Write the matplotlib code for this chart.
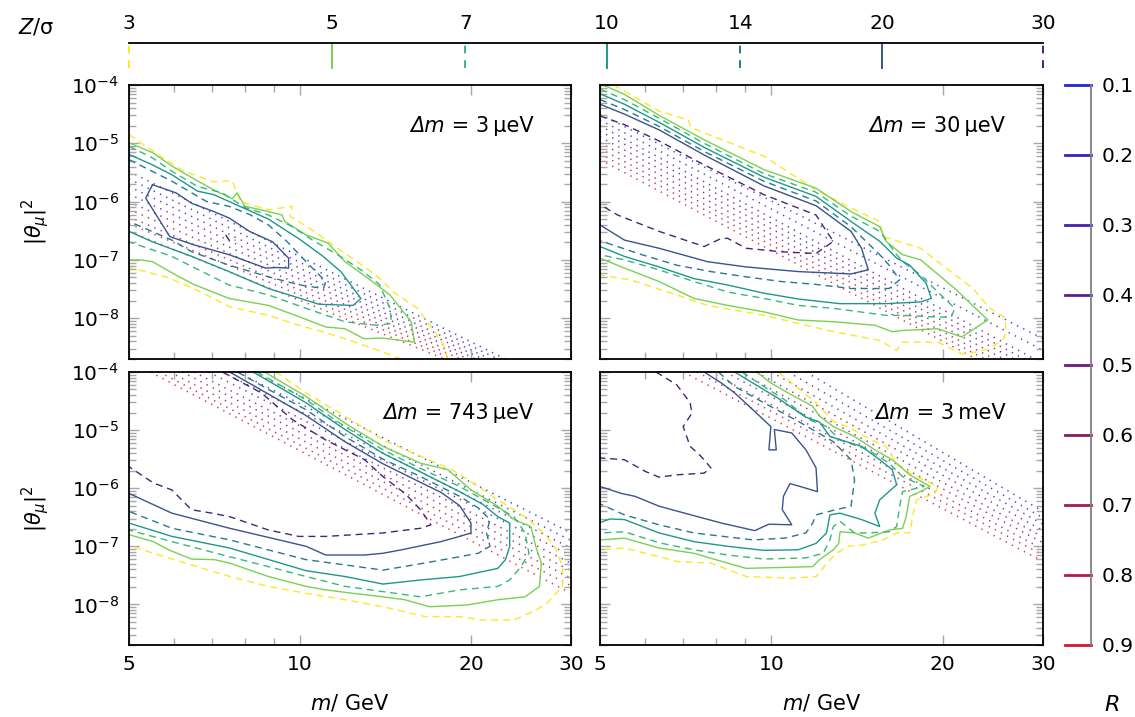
import numpy as np
import matplotlib
matplotlib.use("Agg")
import matplotlib.pyplot as plt
from matplotlib.colors import LogNorm, LinearSegmentedColormap
from matplotlib.ticker import (FixedLocator, FixedFormatter, NullFormatter,
                               NullLocator, LogLocator)
from matplotlib.offsetbox import TextArea, HPacker, AnchoredOffsetbox

plt.rcParams['mathtext.fontset'] = 'dejavusans'
plt.rcParams['font.family'] = 'DejaVu Sans'

# significance levels (colour scale on top) and ratio levels R (right scale)
z_levels = [3, 5, 7, 10, 14, 20, 30]
z_dashed = [True, False, True, False, True, False, True]
r_levels = [0.1, 0.2, 0.3, 0.4, 0.5, 0.6, 0.7, 0.8, 0.9]
r_labels = ['0.1', '0.2', '0.3', '0.4', '0.5', '0.6', '0.7', '0.8', '0.9']
dm_values = ['3\u2009μeV', '30\u2009μeV', '743\u2009μeV', '3\u2009meV']
m_ticks = [5, 10, 20, 30]
m_tick_labels = ['5', '10', '20', '30']
m_minor = [6, 7, 8, 9]
theta_ticks = [1e-8, 1e-7, 1e-6, 1e-5, 1e-4]

# contour lines: (m / GeV, log10 |theta_mu|^2)
# ---- panel 1: dm = 3 ueV
p1_z3a = [(5.0, -4.85), (5.35, -5.05), (5.8, -5.28), (6.25, -5.48), (7.05, -5.66), (7.6, -5.64),
          (7.85, -6.0), (8.8, -6.14), (9.7, -6.08), (9.6, -6.25), (10.6, -6.51), (11.4, -6.74),
          (12.35, -6.97), (13.6, -7.26), (14.6, -7.55), (16.1, -7.83), (17.1, -8.18),
          (17.9, -8.46), (18.2, -8.7)]
p1_z3b = [(15.1, -8.7), (14.0, -8.58), (13.0, -8.47), (12.0, -8.35), (10.95, -8.23), (9.95, -8.12),
          (8.8, -7.95), (7.5, -7.8), (6.5, -7.49), (5.85, -7.3), (5.35, -7.2), (5.0, -7.13)]
p1_z5 = [(5.0, -4.99), (5.5, -5.16), (5.95, -5.39), (6.4, -5.57), (7.05, -5.8), (7.6, -5.95),
         (7.75, -5.85), (8.0, -6.08), (8.8, -6.17), (9.3, -6.23), (9.4, -6.34), (10.25, -6.57),
         (11.2, -6.71), (12.0, -7.03), (13.2, -7.32), (14.4, -7.6), (15.7, -8.06), (15.9, -8.41),
         (14.0, -8.34), (12.95, -8.35), (12.0, -8.18), (11.1, -8.15), (10.0, -7.98), (8.8, -7.78),
         (7.5, -7.66), (6.5, -7.42), (6.05, -7.26), (5.5, -7.03), (5.25, -7.0), (5.0, -7.0)]
p1_z7 = [(5.0, -5.05), (5.5, -5.25), (5.95, -5.48), (6.6, -5.74), (7.3, -5.85), (8.0, -6.1),
         (8.8, -6.23), (9.65, -6.42), (10.6, -6.68), (11.6, -6.9), (12.85, -7.18), (13.8, -7.42),
         (14.4, -7.83), (14.5, -8.09), (13.6, -8.12), (12.0, -8.06), (10.25, -7.83), (8.8, -7.6),
         (7.5, -7.43), (5.95, -6.94), (5.0, -6.69)]
p1_z10 = [(5.0, -5.19), (5.5, -5.37), (5.95, -5.54), (6.6, -5.82), (7.05, -5.88), (8.0, -6.12),
          (8.8, -6.3), (10.0, -6.65), (10.95, -6.93), (11.8, -7.2), (12.8, -7.66), (12.4, -7.78),
          (10.8, -7.76), (8.8, -7.49), (7.5, -7.2), (6.45, -6.94), (5.5, -6.69), (5.0, -6.51)]
p1_z14 = [(5.0, -5.28), (5.95, -5.65), (6.85, -6.0), (7.5, -6.08), (8.15, -6.22), (8.8, -6.4),
          (9.5, -6.69), (10.25, -7.03), (11.1, -7.37), (11.0, -7.49), (10.0, -7.43), (8.8, -7.29),
          (7.5, -7.09), (6.45, -6.86), (5.95, -6.66), (5.0, -6.34)]
p1_z20 = [(5.5, -5.71), (5.35, -5.94), (5.9, -6.6), (6.5, -6.74), (7.5, -6.91), (8.7, -7.14),
          (9.1, -7.13), (9.55, -7.14), (9.55, -6.97), (8.95, -6.69), (8.15, -6.51), (7.5, -6.28),
          (7.05, -6.17), (6.45, -6.03), (6.05, -5.85), (5.5, -5.71)]
p1_z30 = [(7.4, -6.57), (7.5, -6.66), (7.7, -6.66)]
p1_r_m0 = [5.0, 5.0, 5.0, 5.0, 5.0, 5.0, 5.0, 5.0, 5.0]
p1_r_y0 = [-5.48, -5.61, -5.74, -5.87, -6.0, -6.13, -6.26, -6.38, -6.51]
p1_r_m1 = [23.0, 22.3, 21.6, 21.0, 20.4, 19.8, 19.2, 18.6, 18.0]
p1_r_y1 = [-8.7, -8.7, -8.7, -8.7, -8.7, -8.7, -8.7, -8.7, -8.7]

# ---- panel 2: dm = 30 ueV
p2_z3 = [(5.29, -4.0), (6.35, -4.45), (7.15, -4.6), (7.2, -4.72), (7.62, -4.82), (9.7, -5.22),
         (11.98, -5.8), (13.8, -6.11), (15.5, -6.34), (15.7, -6.6), (18.3, -6.8), (19.6, -7.03),
         (22.6, -7.49), (24.2, -7.83), (25.8, -8.0), (25.8, -8.23), (25.6, -8.35), (24.2, -8.52),
         (22.9, -8.58), (21.6, -8.61), (19.6, -8.41), (17.0, -8.41), (16.6, -8.55), (15.5, -8.38),
         (12.85, -8.23), (9.7, -7.95), (7.72, -7.78), (6.82, -7.6), (5.65, -7.34), (5.0, -7.26)]
p2_z5 = [(5.06, -4.0), (5.52, -4.16), (6.35, -4.52), (7.62, -4.94), (9.7, -5.45), (11.98, -5.77),
         (13.8, -6.17), (15.5, -6.43), (15.9, -6.68), (17.0, -6.91), (18.3, -7.0), (21.0, -7.49),
         (24.0, -8.03), (21.6, -8.32), (19.6, -8.18), (17.0, -8.21), (16.3, -8.23), (15.2, -8.12),
         (12.85, -8.06), (11.15, -8.03), (9.7, -7.89), (8.38, -7.78), (7.31, -7.66), (6.35, -7.37),
         (5.52, -7.14), (5.0, -6.97)]
p2_z7 = [(5.0, -4.07), (5.52, -4.25), (6.35, -4.57), (7.62, -5.0), (9.7, -5.52), (11.98, -5.84),
         (13.8, -6.25), (15.5, -6.51), (16.6, -6.91), (17.0, -7.03), (18.3, -7.26), (19.6, -7.55),
         (21.0, -7.83), (20.7, -7.98), (19.6, -7.98), (17.0, -7.95), (15.9, -7.95), (12.85, -7.83),
         (11.15, -7.78), (9.7, -7.66), (8.38, -7.55), (7.31, -7.37), (6.35, -7.17), (5.52, -7.0),
         (5.0, -6.91)]
p2_z10 = [(5.0, -4.15), (5.52, -4.33), (6.35, -4.64), (7.62, -5.07), (9.7, -5.58), (11.98, -5.91),
          (13.8, -6.34), (15.5, -6.68), (16.6, -6.97), (17.5, -7.09), (18.7, -7.4), (19.1, -7.66),
          (18.3, -7.72), (15.9, -7.75), (13.2, -7.75), (11.15, -7.67), (9.7, -7.57), (8.38, -7.43),
          (7.31, -7.32), (6.35, -7.12), (5.52, -6.94), (5.0, -6.77)]
p2_z14 = [(5.0, -4.25), (5.52, -4.42), (6.35, -4.71), (7.62, -5.14), (9.7, -5.65), (11.98, -5.99),
          (13.8, -6.43), (15.5, -6.91), (16.1, -7.09), (16.8, -7.34), (16.1, -7.49), (13.8, -7.49),
          (11.98, -7.42), (10.4, -7.37), (9.03, -7.29), (7.83, -7.2), (6.82, -7.09), (5.92, -6.91),
          (5.0, -6.67)]
p2_z20 = [(5.0, -4.33), (5.52, -4.5), (6.35, -4.77), (7.62, -5.2), (9.7, -5.73), (11.98, -6.07),
          (13.8, -6.51), (14.4, -6.8), (14.8, -7.17), (13.8, -7.24), (11.15, -7.2), (9.03, -7.12),
          (7.72, -7.03), (6.35, -6.8), (5.52, -6.66), (5.0, -6.4)]
p2_z30 = [(5.0, -4.53), (5.52, -4.68), (6.35, -4.96), (7.62, -5.37), (9.7, -5.88), (11.98, -6.23),
          (12.5, -6.51), (12.85, -6.68), (11.98, -6.89), (10.4, -6.86), (9.03, -6.8), (8.38, -6.63),
          (8.17, -6.63), (7.62, -6.77), (6.35, -6.51), (5.37, -6.23), (5.0, -6.05)]
p2_r_m0 = [5.0, 5.0, 5.0, 5.0, 5.0, 5.0, 5.0, 5.0, 5.0]
p2_r_y0 = [-4.5, -4.6, -4.7, -4.79, -4.89, -4.99, -5.09, -5.18, -5.28]
p2_r_m1 = [30.0, 30.0, 29.0, 27.8, 26.7, 25.6, 24.6, 23.7, 22.9]
p2_r_y1 = [-8.35, -8.55, -8.7, -8.7, -8.7, -8.7, -8.7, -8.7, -8.7]

# ---- panel 3: dm = 743 ueV
p3_z3 = [(9.06, -4.0), (10.25, -4.36), (12.0, -4.76), (14.0, -5.17), (16.3, -5.45), (18.5, -5.68),
         (20.6, -5.97), (22.3, -6.2), (23.8, -6.37), (25.3, -6.54), (26.8, -6.77), (28.1, -7.0),
         (29.0, -7.35), (29.0, -7.69), (27.2, -7.98), (26.0, -8.1), (23.8, -8.27), (21.0, -8.27),
         (19.1, -8.21), (16.6, -8.21), (14.0, -8.04), (12.0, -7.92), (10.25, -7.81), (8.8, -7.69),
         (7.52, -7.52), (6.44, -7.32), (5.52, -7.12), (5.0, -6.98)]
p3_z5 = [(8.66, -4.0), (10.25, -4.42), (12.0, -4.88), (14.0, -5.28), (16.3, -5.57), (18.2, -5.68),
         (20.0, -6.03), (22.3, -6.31), (23.8, -6.54), (25.5, -6.66), (26.0, -7.0), (26.6, -7.29),
         (26.4, -7.69), (24.9, -7.87), (22.3, -7.92), (19.7, -8.01), (16.9, -8.04), (15.3, -7.92),
         (14.0, -7.87), (12.4, -7.81), (11.1, -7.75), (10.25, -7.69), (8.8, -7.52), (7.52, -7.29),
         (7.07, -7.23), (6.44, -7.22), (5.87, -7.06), (5.52, -6.92), (5.0, -6.8)]
p3_z7 = [(8.4, -4.0), (10.25, -4.48), (12.0, -4.94), (14.0, -5.34), (16.3, -5.66), (19.1, -5.97),
         (21.6, -6.26), (23.8, -6.49), (24.9, -6.77), (25.3, -7.12), (24.5, -7.35), (23.4, -7.58),
         (22.3, -7.69), (19.1, -7.75), (16.3, -7.87), (14.0, -7.78), (12.0, -7.69), (10.25, -7.52),
         (8.8, -7.35), (7.52, -7.18), (5.95, -6.92), (5.0, -6.72)]
p3_z10 = [(8.27, -4.0), (10.25, -4.53), (12.0, -4.99), (14.0, -5.4), (16.3, -5.72), (19.1, -6.06),
          (21.0, -6.28), (22.3, -6.49), (23.4, -6.6), (23.4, -7.0), (23.0, -7.23), (22.3, -7.38),
          (19.1, -7.52), (16.3, -7.58), (14.0, -7.65), (12.0, -7.52), (10.25, -7.42), (7.52, -7.03),
          (5.95, -6.83), (5.0, -6.6)]
p3_z14 = [(7.76, -4.0), (8.8, -4.3), (10.25, -4.65), (12.0, -5.11), (14.0, -5.5), (16.3, -5.8),
          (19.1, -6.14), (20.6, -6.34), (21.6, -6.54), (21.3, -6.77), (21.6, -7.0), (20.6, -7.12),
          (19.1, -7.18), (16.3, -7.3), (14.0, -7.41), (12.0, -7.32), (10.25, -7.23), (7.52, -6.89),
          (5.95, -6.69), (5.0, -6.4)]
p3_z20 = [(7.52, -4.0), (8.8, -4.38), (10.25, -4.75), (12.0, -5.2), (14.0, -5.58), (16.3, -5.9),
          (17.7, -6.07), (19.1, -6.3), (20.0, -6.6), (20.0, -6.77), (19.1, -6.83), (17.7, -6.92),
          (15.1, -7.06), (14.0, -7.12), (13.0, -7.15), (11.1, -7.15), (10.25, -7.0), (7.52, -6.69),
          (5.95, -6.43), (5.0, -6.09)]
p3_z30 = [(7.3, -4.0), (8.55, -4.36), (9.7, -4.82), (11.1, -5.17), (13.0, -5.51), (14.0, -5.8),
          (15.3, -6.09), (16.3, -6.37), (17.0, -6.63), (16.3, -6.69), (14.0, -6.77), (11.1, -6.83),
          (9.95, -6.83), (8.8, -6.72), (7.52, -6.49), (7.0, -6.43), (6.44, -6.37), (5.95, -6.03),
          (5.52, -5.91), (5.0, -5.63)]
p3_r_m0 = [8.27, 7.75, 7.3, 6.9, 6.5, 6.2, 5.9, 5.65, 5.45]
p3_r_y0 = [-4.0, -4.0, -4.0, -4.0, -4.0, -4.0, -4.0, -4.0, -4.0]
p3_r_m1 = [30.0, 30.0, 30.0, 30.0, 30.0, 30.0, 30.0, 30.0, 30.0]
p3_r_y1 = [-6.77, -6.9, -7.03, -7.16, -7.29, -7.42, -7.55, -7.68, -7.81]

# ---- panel 4: dm = 3 meV
p4_z3 = [(10.27, -4.0), (11.15, -4.28), (11.98, -4.53), (12.85, -4.85), (13.6, -4.94), (14.8, -5.14),
         (15.9, -5.28), (16.6, -5.57), (17.5, -5.74), (18.55, -5.86), (19.6, -5.97), (19.4, -6.09),
         (18.0, -6.2), (17.75, -6.43), (17.5, -6.77), (16.6, -6.77), (15.7, -6.89), (14.4, -6.98),
         (13.6, -7.0), (13.04, -7.12), (12.67, -7.23), (11.98, -7.52), (10.86, -7.55), (9.03, -7.52),
         (7.83, -7.29), (6.82, -7.26), (6.35, -7.18), (5.52, -7.03), (5.0, -7.06)]
p4_z5 = [(9.42, -4.0), (9.98, -4.19), (10.7, -4.36), (11.82, -4.59), (12.15, -4.76), (12.85, -4.94),
         (14.0, -5.11), (15.2, -5.34), (16.3, -5.51), (17.5, -5.77), (19.0, -5.97), (18.0, -6.09),
         (17.5, -6.14), (17.25, -6.49), (17.0, -6.69), (16.1, -6.72), (14.8, -6.86), (14.0, -6.77),
         (13.2, -6.75), (13.13, -6.95), (12.85, -7.06), (12.15, -7.23), (11.82, -7.35), (9.03, -7.38),
         (8.38, -7.29), (7.31, -7.12), (6.35, -7.03), (5.52, -6.86), (5.0, -6.89)]
p4_z7 = [(8.88, -4.0), (9.7, -4.25), (10.56, -4.48), (11.65, -4.82), (12.5, -4.94), (13.2, -5.17),
         (14.8, -5.34), (16.1, -5.57), (17.0, -5.8), (18.55, -5.97), (17.0, -6.06), (16.8, -6.31),
         (16.6, -6.66), (16.1, -6.75), (14.8, -6.77), (14.0, -6.77), (13.2, -6.57), (12.85, -6.66),
         (12.67, -6.89), (12.33, -7.12), (11.5, -7.2), (9.7, -7.22), (8.38, -7.15), (7.31, -7.06),
         (6.35, -6.94), (5.52, -6.75), (5.0, -6.77)]
p4_z10 = [(8.62, -4.0), (9.28, -4.19), (10.27, -4.45), (11.5, -4.78), (12.15, -4.86), (12.67, -5.11),
          (14.4, -5.28), (15.5, -5.51), (16.3, -5.68), (16.6, -5.94), (15.5, -6.2), (15.2, -6.43),
          (15.5, -6.66), (14.4, -6.54), (13.2, -6.43), (12.67, -6.46), (12.5, -6.77), (11.98, -6.95),
          (11.15, -7.06), (9.7, -7.07), (8.38, -7.0), (7.31, -6.92), (6.35, -6.77), (5.52, -6.54),
          (5.21, -6.53), (5.0, -6.59)]
p4_z14 = [(8.07, -4.0), (8.62, -4.25), (9.7, -4.53), (11.15, -4.85), (12.85, -5.2), (13.8, -5.51),
          (14.0, -5.86), (13.8, -6.31), (12.85, -6.38), (11.98, -6.46), (11.82, -6.6), (11.5, -6.77),
          (10.56, -6.86), (9.28, -6.89), (7.31, -6.77), (6.35, -6.63), (5.52, -6.46), (5.0, -6.27)]
p4_z20 = [(7.62, -4.0), (8.17, -4.19), (8.62, -4.36), (9.28, -4.65), (9.98, -4.94), (9.9, -5.34),
          (10.2, -5.34), (10.12, -4.99), (10.86, -5.05), (11.5, -5.34), (11.98, -5.65), (12.05, -6.06),
          (11.5, -6.0), (10.78, -5.92), (10.5, -6.14), (10.45, -6.37), (10.86, -6.63), (9.9, -6.62),
          (9.35, -6.73), (8.17, -6.6), (7.42, -6.49), (6.35, -6.31), (5.76, -6.14), (5.45, -6.09),
          (5.0, -5.97)]
p4_z30 = [(6.27, -4.0), (6.82, -4.22), (7.2, -4.53), (7.25, -4.71), (7.0, -4.94), (7.2, -5.28),
          (7.52, -5.45), (7.83, -5.65), (7.62, -5.74), (6.82, -5.77), (6.35, -5.81), (6.0, -5.71),
          (5.52, -5.51), (5.0, -5.48)]
p4_r_m0 = [11.5, 10.7, 10.0, 9.4, 8.8, 8.3, 7.8, 7.4, 7.0]
p4_r_y0 = [-4.0, -4.0, -4.0, -4.0, -4.0, -4.0, -4.0, -4.0, -4.0]
p4_r_m1 = [30.0, 30.0, 30.0, 30.0, 30.0, 30.0, 30.0, 30.0, 30.0]
p4_r_y1 = [-6.4, -6.51, -6.62, -6.73, -6.84, -6.94, -7.05, -7.15, -7.26]

# per panel: list of pieces for each Z level, the R lines
panels = [
    ([[p1_z3a, p1_z3b], [p1_z5], [p1_z7], [p1_z10], [p1_z14], [p1_z20], [p1_z30]],
     (p1_r_m0, p1_r_y0, p1_r_m1, p1_r_y1)),
    ([[p2_z3], [p2_z5], [p2_z7], [p2_z10], [p2_z14], [p2_z20], [p2_z30]],
     (p2_r_m0, p2_r_y0, p2_r_m1, p2_r_y1)),
    ([[p3_z3], [p3_z5], [p3_z7], [p3_z10], [p3_z14], [p3_z20], [p3_z30]],
     (p3_r_m0, p3_r_y0, p3_r_m1, p3_r_y1)),
    ([[p4_z3], [p4_z5], [p4_z7], [p4_z10], [p4_z14], [p4_z20], [p4_z30]],
     (p4_r_m0, p4_r_y0, p4_r_m1, p4_r_y1)),
]

znorm = LogNorm(3, 30)
rcmap = LinearSegmentedColormap.from_list('br', ['#2626d4', '#6c1a82', '#d41530'])


def zcolor(z):
    # viridis, yellow at Z=3, dark blue-purple at Z=30
    return plt.cm.viridis(1.0 - 0.9 * znorm(z))


W, H = 1135, 717
fig = plt.figure(figsize=(W / 100, H / 100), dpi=100)

# panel boxes in pixels: (left, top, right, bottom)
boxes = [(129, 85, 571, 359), (600, 85, 1043, 359),
         (129, 372, 571, 645), (600, 372, 1043, 645)]
axs = []
for (l, t, r, b) in boxes:
    axs.append(fig.add_axes([l / W, 1 - b / H, (r - l) / W, (b - t) / H]))

for i, ax in enumerate(axs):
    levels, (rm0, ry0, rm1, ry1) = panels[i]
    # ratio lines (dotted)
    for k, rv in enumerate(r_levels):
        ax.plot([rm0[k], rm1[k]], [10.0 ** ry0[k], 10.0 ** ry1[k]],
                color=rcmap((rv - 0.1) / 0.8), lw=1.1, ls=(0, (0.9, 3.6)),
                alpha=0.85, zorder=1)
    # significance contours
    for z, dashed, pieces in zip(z_levels, z_dashed, levels):
        for piece in pieces:
            arr = np.array(piece)
            ax.plot(arr[:, 0], 10.0 ** arr[:, 1], color=zcolor(z), lw=1.0,
                    ls=(0, (5, 3.5)) if dashed else '-', zorder=2)

    ax.set_xscale('log')
    ax.set_yscale('log')
    ax.set_xlim(5, 30)
    ax.set_ylim(2e-9, 1e-4)
    ax.xaxis.set_major_locator(FixedLocator(m_ticks))
    ax.xaxis.set_minor_locator(FixedLocator(m_minor))
    ax.xaxis.set_minor_formatter(NullFormatter())
    if i >= 2:
        ax.xaxis.set_major_formatter(FixedFormatter(m_tick_labels))
    else:
        ax.xaxis.set_major_formatter(NullFormatter())
    ax.yaxis.set_major_locator(FixedLocator(theta_ticks))
    ax.yaxis.set_minor_locator(LogLocator(base=10, subs=np.arange(2, 10), numticks=15))
    ax.yaxis.set_minor_formatter(NullFormatter())
    if i % 2 == 1:
        ax.yaxis.set_major_formatter(NullFormatter())
    ax.tick_params(which='both', direction='in', top=True, right=True,
                   color='#a8a8a8', width=1.0, labelsize=14.5, pad=7)
    ax.tick_params(which='major', length=7)
    ax.tick_params(which='minor', length=5)
    for s in ax.spines.values():
        s.set_linewidth(1.3)

    # "Delta m = ..." with italic Delta m
    part1 = TextArea('Δm', textprops=dict(fontsize=15, style='italic'))
    part2 = TextArea(' = ' + dm_values[i], textprops=dict(fontsize=15))
    packed = HPacker(children=[part1, part2], align='baseline', pad=0, sep=0)
    anchored = AnchoredOffsetbox(loc='center right', child=packed, pad=0, borderpad=0,
                                 frameon=False, bbox_to_anchor=(0.915, 0.85),
                                 bbox_transform=ax.transAxes)
    ax.add_artist(anchored)

# axis labels
for (l, t, r, b) in boxes[::2]:
    fig.text(35 / W, 1 - (t + b) / 2 / H, r'$|\theta_\mu|^2$', rotation=90,
             ha='center', va='center', fontsize=15)
for (l, t, r, b) in boxes[2:]:
    fig.text((l + r) / 2 / W, 1 - 703 / H, r'$m$/ GeV', ha='center', va='center',
             fontsize=15)

# Z scale on top
zax = fig.add_axes([129 / W, 1 - 68 / H, 914 / W, 25 / H])
zax.set_xscale('log')
zax.set_xlim(3, 30)
zax.set_ylim(0, 1)
for z, dashed in zip(z_levels, z_dashed):
    zax.plot([z, z], [0, 1], color=zcolor(z), lw=1.4,
             ls=(0, (4, 3.5)) if dashed else '-', clip_on=False)
for side in ['left', 'right', 'bottom']:
    zax.spines[side].set_visible(False)
zax.spines['top'].set_linewidth(1.3)
zax.xaxis.tick_top()
zax.xaxis.set_major_locator(FixedLocator(z_levels))
zax.xaxis.set_major_formatter(FixedFormatter([str(z) for z in z_levels]))
zax.xaxis.set_minor_locator(NullLocator())
zax.set_yticks([])
zax.tick_params(length=0, pad=7, labelsize=14.5)
fig.text(36 / W, 1 - 27 / H, r'$Z/$σ', ha='center', va='center', fontsize=15)

# R scale on the right
rax = fig.add_axes([1065 / W, 1 - 645 / H, 26 / W, 560 / H])
rax.set_xlim(0, 1)
rax.set_ylim(0.9, 0.1)
for rv in r_levels:
    rax.plot([0, 1], [rv, rv], color=rcmap((rv - 0.1) / 0.8), lw=2.0, clip_on=False)
for side in ['left', 'top', 'bottom']:
    rax.spines[side].set_visible(False)
rax.spines['right'].set_color('#808080')
rax.spines['right'].set_linewidth(1.3)
rax.yaxis.tick_right()
rax.yaxis.set_major_locator(FixedLocator(r_levels))
rax.yaxis.set_major_formatter(FixedFormatter(r_labels))
rax.set_xticks([])
rax.tick_params(length=0, pad=8, labelsize=14.5)
fig.text(1112 / W, 1 - 705 / H, r'$R$', ha='center', va='center', fontsize=16)

fig.savefig('out.png', dpi=100)
